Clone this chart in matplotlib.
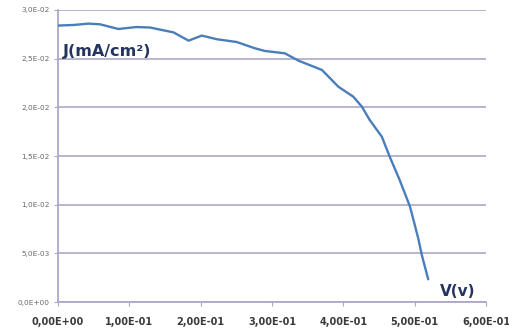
import matplotlib
matplotlib.use("Agg")
import matplotlib.pyplot as plt
from matplotlib.ticker import FuncFormatter, MultipleLocator

voltage = [0.0, 0.0215, 0.0425, 0.059, 0.0845, 0.110, 0.129, 0.162, 0.183, 0.2015,
           0.2225, 0.2505, 0.276, 0.290, 0.318, 0.337, 0.370, 0.393, 0.414, 0.426,
           0.437, 0.454, 0.465, 0.479, 0.4935, 0.505, 0.510, 0.519]
current = [0.0284, 0.02846, 0.0286, 0.02853, 0.02805, 0.02825, 0.0282, 0.0277, 0.02685, 0.02737,
           0.0270, 0.02671, 0.02607, 0.02579, 0.02555, 0.0248, 0.02384, 0.02212, 0.02109, 0.02007,
           0.0187, 0.01698, 0.01493, 0.01253, 0.00979, 0.00654, 0.00483, 0.00233]
y_label = "J(mA/cm²)"
x_label = "V(v)"

fig = plt.figure(figsize=(5.10, 3.31), dpi=100)
ax = fig.add_axes([58/510, 29/331, 428/510, 292/331])

grid_c = "#a9a9c6"
ax.plot(voltage, current, color="#4a7ebb", lw=1.7, zorder=3,
        solid_joinstyle="round", solid_capstyle="round")
ax.set_xlim(0, 0.6)
ax.set_ylim(0, 0.03)
ax.xaxis.set_major_locator(MultipleLocator(0.1))
ax.yaxis.set_major_locator(MultipleLocator(0.005))
ax.grid(axis="y", color=grid_c, lw=1.2)
ax.set_axisbelow(True)
for s in ["top", "right"]:
    ax.spines[s].set_visible(False)
for s in ["left", "bottom"]:
    ax.spines[s].set_color(grid_c)
    ax.spines[s].set_linewidth(1.3)

def fx(v, pos):
    return f"{v:.2E}".replace(".", ",")

def fy(v, pos):
    return f"{v:.1E}".replace(".", ",")

ax.xaxis.set_major_formatter(FuncFormatter(fx))
ax.yaxis.set_major_formatter(FuncFormatter(fy))
ax.tick_params(axis="x", direction="out", length=3, color=grid_c, labelsize=7,
               labelcolor="#3a3a3a", pad=8)
ax.tick_params(axis="y", direction="out", length=3, color=grid_c, labelsize=5.3,
               labelcolor="#6a6a6a", pad=3)
for t in ax.get_xticklabels():
    t.set_fontweight("bold")

ax.text(0.007, 0.0250, y_label, fontsize=11.5, fontweight="bold", color="#24345c",
        ha="left", va="bottom")
ax.text(0.536, 0.0003, x_label, fontsize=11, fontweight="bold", color="#24345c",
        ha="left", va="bottom")

fig.savefig("out.png", dpi=100)
